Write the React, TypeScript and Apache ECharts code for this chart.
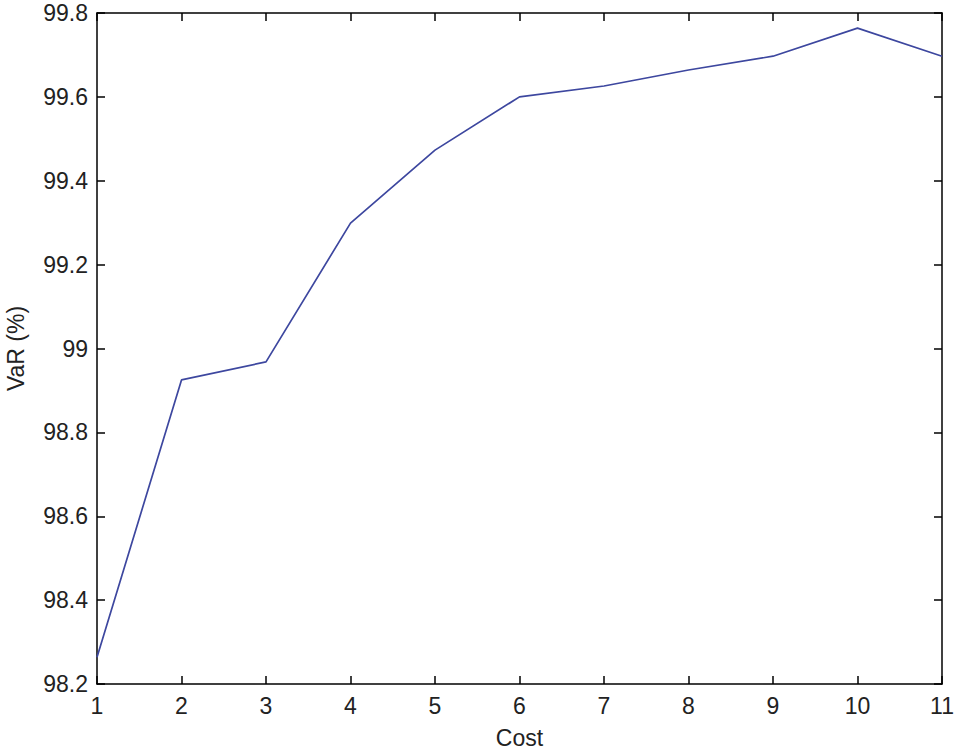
import React, { useEffect, useRef } from "react";
import * as echarts from "echarts";

const costs = [1, 2, 3, 4, 5, 6, 7, 8, 9, 10, 11];
const varValues = [98.264, 98.925, 98.968, 99.299, 99.473, 99.6, 99.626, 99.664, 99.697, 99.764, 99.697];
const xTicks = { min: 1, max: 11, interval: 1 };
const yTicks = { min: 98.2, max: 99.8, interval: 0.2 };

const FONT = "'Liberation Sans', Arial, sans-serif";

export default function App() {
  const ref = useRef<HTMLDivElement>(null);
  useEffect(() => {
    if (!ref.current) return;
    const chart = echarts.init(ref.current, undefined, { renderer: "svg" });
    const axisLine = { show: true, lineStyle: { color: "#000", width: 1.5 } };
    const tick = { show: true, inside: true, length: 8, lineStyle: { color: "#000", width: 1.5 } };
    const label = { color: "#222", fontSize: 23, fontFamily: FONT };
    const fmtY = (v: number) => String(parseFloat(v.toFixed(1)));
    chart.setOption({
      animation: false,
      backgroundColor: "#fff",
      grid: {
        left: 97,
        top: 13,
        right: 12,
        bottom: 66,
        containLabel: false,
        outerBoundsMode: "none",
      },
      xAxis: [
        {
          type: "value",
          ...xTicks,
          position: "bottom",
          axisLine,
          axisTick: tick,
          axisLabel: { ...label, margin: 10 },
          splitLine: { show: false },
          name: "Cost",
          nameLocation: "middle",
          nameGap: 42,
          nameTextStyle: { color: "#222", fontSize: 23, fontFamily: FONT },
        },
        {
          type: "value",
          ...xTicks,
          position: "top",
          axisLine,
          axisTick: tick,
          axisLabel: { show: false },
          splitLine: { show: false },
        },
      ],
      yAxis: [
        {
          type: "value",
          ...yTicks,
          position: "left",
          axisLine,
          axisTick: tick,
          axisLabel: { ...label, margin: 9, formatter: fmtY },
          splitLine: { show: false },
          name: "VaR (%)",
          nameLocation: "middle",
          nameGap: 70,
          nameTextStyle: { color: "#222", fontSize: 23, fontFamily: FONT },
        },
        {
          type: "value",
          ...yTicks,
          position: "right",
          axisLine,
          axisTick: tick,
          axisLabel: { show: false },
          splitLine: { show: false },
        },
      ],
      series: [
        {
          type: "line",
          data: costs.map((c, i) => [c, varValues[i]]),
          showSymbol: false,
          symbol: "none",
          lineStyle: { color: "#3d479f", width: 1.7 },
        },
      ],
    });
    return () => chart.dispose();
  }, []);
  return (
    <div
      ref={ref}
      style={{ position: "fixed", left: 0, top: 0, width: 954, height: 750 }}
    />
  );
}
